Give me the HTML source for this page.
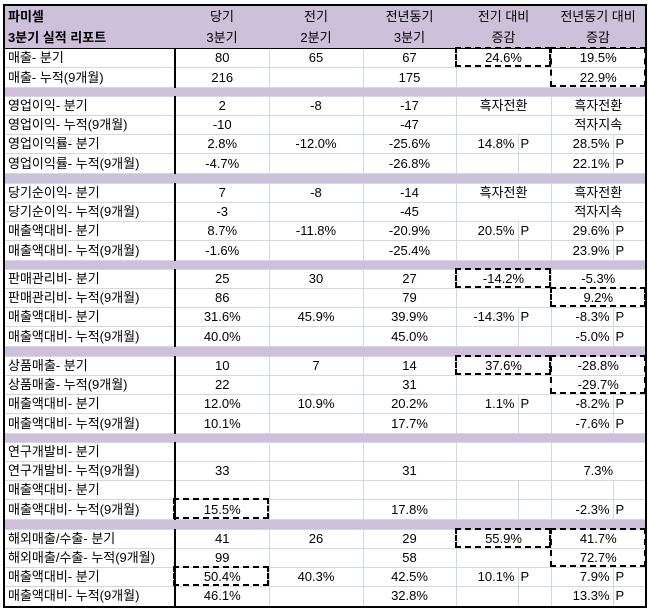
<!DOCTYPE html>
<html><head><meta charset="utf-8"><style>
body{margin:0;width:649px;height:609px;background:#fff;position:relative;overflow:hidden;font-family:"Liberation Sans","Noto Sans CJK KR",sans-serif;font-size:13px;color:#000}
table{position:absolute;left:3px;top:4px;border-collapse:collapse;table-layout:fixed;width:642px;border:2px solid #000}
td{padding:0;border:1px solid #d0d7e5;text-align:center;white-space:nowrap;overflow:hidden;line-height:14px;box-sizing:border-box}
td.l{text-align:left;padding-left:3px;border-right:2px solid #000}
td.v{text-align:right;padding-right:3px;border-right:1px solid #d0d7e5}
td.p{text-align:left;padding-left:2px}
tr.r{height:19px}
tr.r2{height:20px}
tr.s td{background:#ccc0da;border-left:none;border-right:none}
tr.s9{height:9px}
tr.s10{height:10px}
tr.h td{background:#ccc0da;border:none;border-bottom:1px solid #000;height:43px;line-height:21px;vertical-align:middle}
.b{position:absolute;border:2px dashed #000;box-sizing:border-box}
</style></head><body>
<table>
<colgroup><col style="width:171px"><col style="width:94px"><col style="width:94px"><col style="width:93px"><col style="width:62px"><col style="width:33px"><col style="width:62px"><col style="width:33px"></colgroup>
<tr class="h"><td style="text-align:left;padding-left:3px;font-weight:bold">파미셀<br>3분기 실적 리포트</td><td>당기<br>3분기</td><td>전기<br>2분기</td><td>전년동기<br>3분기</td><td colspan="2">전기 대비<br>증감</td><td colspan="2">전년동기 대비<br>증감</td></tr>
<tr class="r"><td class="l">매출- 분기</td><td>80</td><td>65</td><td>67</td><td colspan="2">24.6%</td><td colspan="2">19.5%</td></tr>
<tr class="r2"><td class="l">매출- 누적(9개월)</td><td>216</td><td></td><td>175</td><td colspan="2"></td><td colspan="2">22.9%</td></tr>
<tr class="s s9"><td colspan="8"></td></tr>
<tr class="r"><td class="l">영업이익- 분기</td><td>2</td><td>-8</td><td>-17</td><td colspan="2">흑자전환</td><td colspan="2">흑자전환</td></tr>
<tr class="r"><td class="l">영업이익- 누적(9개월)</td><td>-10</td><td></td><td>-47</td><td colspan="2"></td><td colspan="2">적자지속</td></tr>
<tr class="r"><td class="l">영업이익률- 분기</td><td>2.8%</td><td>-12.0%</td><td>-25.6%</td><td class="v">14.8%</td><td class="p">P</td><td class="v">28.5%</td><td class="p">P</td></tr>
<tr class="r2"><td class="l">영업이익률- 누적(9개월)</td><td>-4.7%</td><td></td><td>-26.8%</td><td class="v"></td><td class="p"></td><td class="v">22.1%</td><td class="p">P</td></tr>
<tr class="s s10"><td colspan="8"></td></tr>
<tr class="r"><td class="l">당기순이익- 분기</td><td>7</td><td>-8</td><td>-14</td><td colspan="2">흑자전환</td><td colspan="2">흑자전환</td></tr>
<tr class="r"><td class="l">당기순이익- 누적(9개월)</td><td>-3</td><td></td><td>-45</td><td colspan="2"></td><td colspan="2">적자지속</td></tr>
<tr class="r"><td class="l">매출액대비- 분기</td><td>8.7%</td><td>-11.8%</td><td>-20.9%</td><td class="v">20.5%</td><td class="p">P</td><td class="v">29.6%</td><td class="p">P</td></tr>
<tr class="r2"><td class="l">매출액대비- 누적(9개월)</td><td>-1.6%</td><td></td><td>-25.4%</td><td class="v"></td><td class="p"></td><td class="v">23.9%</td><td class="p">P</td></tr>
<tr class="s s9"><td colspan="8"></td></tr>
<tr class="r"><td class="l">판매관리비- 분기</td><td>25</td><td>30</td><td>27</td><td colspan="2">-14.2%</td><td colspan="2">-5.3%</td></tr>
<tr class="r"><td class="l">판매관리비- 누적(9개월)</td><td>86</td><td></td><td>79</td><td colspan="2"></td><td colspan="2">9.2%</td></tr>
<tr class="r"><td class="l">매출액대비- 분기</td><td>31.6%</td><td>45.9%</td><td>39.9%</td><td class="v">-14.3%</td><td class="p">P</td><td class="v">-8.3%</td><td class="p">P</td></tr>
<tr class="r2"><td class="l">매출액대비- 누적(9개월)</td><td>40.0%</td><td></td><td>45.0%</td><td class="v"></td><td class="p"></td><td class="v">-5.0%</td><td class="p">P</td></tr>
<tr class="s s10"><td colspan="8"></td></tr>
<tr class="r"><td class="l">상품매출- 분기</td><td>10</td><td>7</td><td>14</td><td colspan="2">37.6%</td><td colspan="2">-28.8%</td></tr>
<tr class="r"><td class="l">상품매출- 누적(9개월)</td><td>22</td><td></td><td>31</td><td colspan="2"></td><td colspan="2">-29.7%</td></tr>
<tr class="r"><td class="l">매출액대비- 분기</td><td>12.0%</td><td>10.9%</td><td>20.2%</td><td class="v">1.1%</td><td class="p">P</td><td class="v">-8.2%</td><td class="p">P</td></tr>
<tr class="r2"><td class="l">매출액대비- 누적(9개월)</td><td>10.1%</td><td></td><td>17.7%</td><td class="v"></td><td class="p"></td><td class="v">-7.6%</td><td class="p">P</td></tr>
<tr class="s s9"><td colspan="8"></td></tr>
<tr class="r"><td class="l">연구개발비- 분기</td><td></td><td></td><td></td><td colspan="2"></td><td colspan="2"></td></tr>
<tr class="r"><td class="l">연구개발비- 누적(9개월)</td><td>33</td><td></td><td>31</td><td colspan="2"></td><td colspan="2">7.3%</td></tr>
<tr class="r"><td class="l">매출액대비- 분기</td><td></td><td></td><td></td><td class="v"></td><td class="p"></td><td class="v"></td><td class="p"></td></tr>
<tr class="r2"><td class="l">매출액대비- 누적(9개월)</td><td>15.5%</td><td></td><td>17.8%</td><td class="v"></td><td class="p"></td><td class="v">-2.3%</td><td class="p">P</td></tr>
<tr class="s s10"><td colspan="8"></td></tr>
<tr class="r"><td class="l">해외매출/수출- 분기</td><td>41</td><td>26</td><td>29</td><td colspan="2">55.9%</td><td colspan="2">41.7%</td></tr>
<tr class="r"><td class="l">해외매출/수출- 누적(9개월)</td><td>99</td><td></td><td>58</td><td colspan="2"></td><td colspan="2">72.7%</td></tr>
<tr class="r"><td class="l">매출액대비- 분기</td><td>50.4%</td><td>40.3%</td><td>42.5%</td><td class="v">10.1%</td><td class="p">P</td><td class="v">7.9%</td><td class="p">P</td></tr>
<tr class="r2"><td class="l">매출액대비- 누적(9개월)</td><td>46.1%</td><td></td><td>32.8%</td><td class="v"></td><td class="p"></td><td class="v">13.3%</td><td class="p">P</td></tr>
</table>
<div class="b" style="left:455px;top:47px;width:96px;height:20px"></div>
<div class="b" style="left:550px;top:47px;width:96px;height:40px"></div>
<div class="b" style="left:455px;top:268px;width:96px;height:20px"></div>
<div class="b" style="left:550px;top:287px;width:96px;height:20px"></div>
<div class="b" style="left:455px;top:355px;width:96px;height:20px"></div>
<div class="b" style="left:550px;top:355px;width:96px;height:39px"></div>
<div class="b" style="left:173px;top:498px;width:96px;height:21px"></div>
<div class="b" style="left:455px;top:528px;width:96px;height:20px"></div>
<div class="b" style="left:550px;top:528px;width:96px;height:39px"></div>
<div class="b" style="left:173px;top:566px;width:96px;height:20px"></div>
</body></html>
